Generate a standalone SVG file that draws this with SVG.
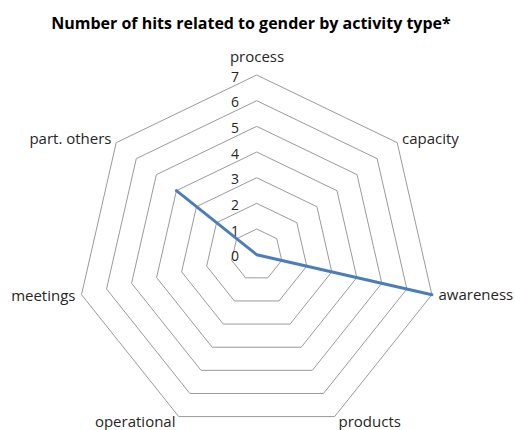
<svg xmlns="http://www.w3.org/2000/svg" width="515" height="430" viewBox="0 0 515 430">
<style>
.title{font-family:"Open Sans","Liberation Sans",sans-serif;font-size:16px;font-weight:bold;fill:#000}
.lbl{font-family:"Open Sans","Liberation Sans",sans-serif;font-size:15px;fill:#262626}
.tick{font-family:"Open Sans","Liberation Sans",sans-serif;font-size:14px;fill:#262626;text-anchor:end}
.grid{fill:none;stroke:#9a9a9a;stroke-width:1}
.series{fill:none;stroke:#4a7ebb;stroke-width:3;stroke-linejoin:round;stroke-linecap:round}
</style>
<rect width="515" height="430" fill="#fff"/>
<text class="title" x="251" y="29" text-anchor="middle">Number of hits related to gender by activity type*</text>
<g id="grid" transform="translate(256.7,254.7)">
<polygon class="grid" points="0,-25.67 20.07,-16.00 25.03,5.71 11.14,23.13 -11.14,23.13 -25.03,5.71 -20.07,-16.00"/>
<polygon class="grid" points="0,-51.34 40.14,-32.01 50.05,11.42 22.28,46.26 -22.28,46.26 -50.05,11.42 -40.14,-32.01"/>
<polygon class="grid" points="0,-77.01 60.21,-48.02 75.08,17.14 33.41,69.38 -33.41,69.38 -75.08,17.14 -60.21,-48.02"/>
<polygon class="grid" points="0,-102.68 80.28,-64.02 100.11,22.85 44.55,92.51 -44.55,92.51 -100.11,22.85 -80.28,-64.02"/>
<polygon class="grid" points="0,-128.35 100.35,-80.03 125.13,28.56 55.69,115.64 -55.69,115.64 -125.13,28.56 -100.35,-80.03"/>
<polygon class="grid" points="0,-154.02 120.42,-96.03 150.16,34.27 66.83,138.77 -66.83,138.77 -150.16,34.27 -120.42,-96.03"/>
<polygon class="grid" points="0,-179.69 140.49,-112.04 175.19,39.98 77.96,161.89 -77.96,161.89 -175.19,39.98 -140.49,-112.04"/>
</g>
<g id="ticks">
<text class="tick" x="239" y="261.2">0</text>
<text class="tick" x="239" y="235.5">1</text>
<text class="tick" x="239" y="209.9">2</text>
<text class="tick" x="239" y="184.2">3</text>
<text class="tick" x="239" y="158.5">4</text>
<text class="tick" x="239" y="132.9">5</text>
<text class="tick" x="239" y="107.2">6</text>
<text class="tick" x="239" y="81.5">7</text>
</g>
<g id="connectors">
<path class="series" d="M431.89,294.68 L256.7,254.7 L176.42,190.68"/>
</g>
<g id="node-process"><text class="lbl" x="257" y="61.5" text-anchor="middle">process</text></g>
<g id="node-capacity"><text class="lbl" x="402" y="144">capacity</text></g>
<g id="node-awareness"><text class="lbl" x="438.5" y="300">awareness</text></g>
<g id="node-products"><text class="lbl" x="338.5" y="426.5">products</text></g>
<g id="node-operational"><text class="lbl" x="175.5" y="426.5" text-anchor="end">operational</text></g>
<g id="node-meetings"><text class="lbl" x="75.5" y="300.5" text-anchor="end">meetings</text></g>
<g id="node-part-others"><text class="lbl" x="111.5" y="144" text-anchor="end">part. others</text></g>
</svg>
